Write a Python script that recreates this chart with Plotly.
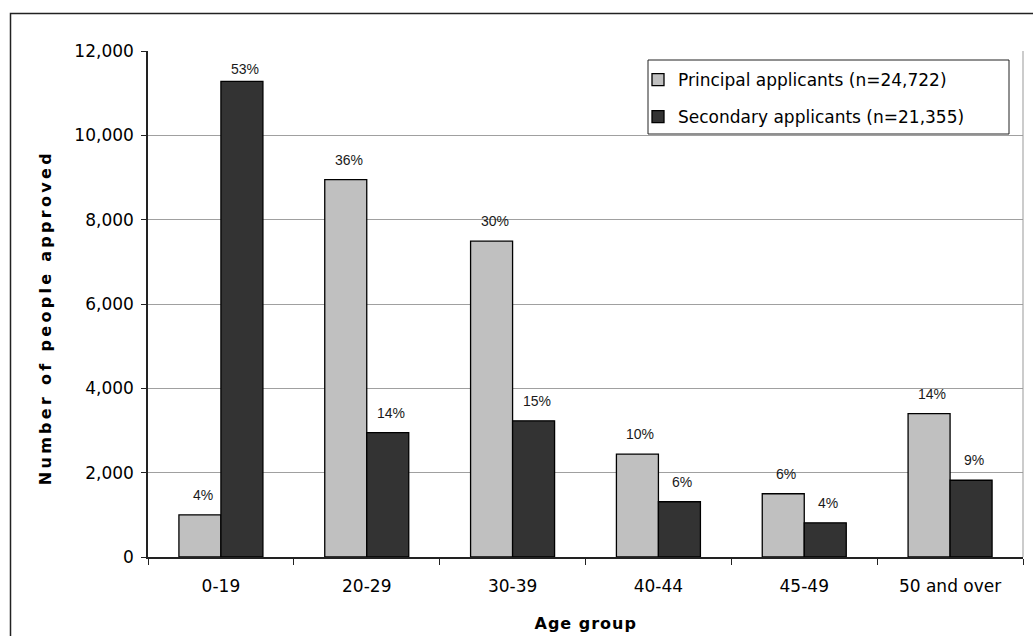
import plotly.graph_objects as go

# ---- data -------------------------------------------------------------
age_groups = ["0-19", "20-29", "30-39", "40-44", "45-49", "50 and over"]
principal = [1000, 8950, 7490, 2440, 1500, 3400]
secondary = [11280, 2950, 3230, 1310, 810, 1820]
principal_pct = ["4%", "36%", "30%", "10%", "6%", "14%"]
secondary_pct = ["53%", "14%", "15%", "6%", "4%", "9%"]
series_names = ["Principal applicants (n=24,722)", "Secondary applicants (n=21,355)"]
y_ticks = [0, 2000, 4000, 6000, 8000, 10000, 12000]

# ---- geometry ---------------------------------------------------------
W, H = 1033, 636
ML, MR, MT, MB = 148, 10, 51, 79
PW, PH = W - ML - MR, H - MT - MB
Y_MAX = 12000
BARGAP = 0.424


def px_x(px):
    return (px - ML) / PW


def px_y(py):
    return (H - MB - py) / PH


TICK_FONT = dict(family="DejaVu Sans", size=17, color="#000000")
LABEL_FONT = dict(family="Liberation Sans", size=14, color="#1a1a1a")

fig = go.Figure()
fig.add_trace(go.Bar(
    x=age_groups, y=principal, name=series_names[0],
    marker=dict(color="#C0C0C0", line=dict(color="#000000", width=1.3)),
    legend="legend", hoverinfo="skip",
))
fig.add_trace(go.Bar(
    x=age_groups, y=secondary, name=series_names[1],
    marker=dict(color="#333333", line=dict(color="#000000", width=1.3)),
    legend="legend2", hoverinfo="skip",
))

# percentage labels above each bar
cat_px = PW / len(age_groups)
half_bar_px = (1 - BARGAP) / 2 * cat_px / 2
annotations = []
for vals, pcts, side in ((principal, principal_pct, -1), (secondary, secondary_pct, 1)):
    for cat, v, t in zip(age_groups, vals, pcts):
        annotations.append(dict(
            x=cat, y=v, xref="x", yref="y", text=t, showarrow=False,
            xanchor="center", yanchor="bottom",
            xshift=side * half_bar_px + 3,
            yshift=2 if v > 0.9 * Y_MAX else 10,
            font=LABEL_FONT,
        ))

# axis titles
annotations.append(dict(
    x=px_x(45), y=px_y(318), xref="paper", yref="paper",
    text="<b>Number of people approved</b>", textangle=-90, showarrow=False,
    xanchor="center", yanchor="middle",
    font=dict(family="DejaVu Sans", size=16, color="#000000"),
))
annotations.append(dict(
    x=0.5, y=px_y(623), xref="paper", yref="paper",
    text="<b>Age group</b>", showarrow=False,
    xanchor="center", yanchor="middle",
    font=dict(family="DejaVu Sans", size=16, color="#000000"),
))

shapes = [
    # outer chart frame
    dict(type="rect", xref="paper", yref="paper",
         x0=px_x(10.5), x1=px_x(1045), y0=px_y(650), y1=px_y(13.5),
         line=dict(color="#222222", width=1.5), layer="below"),
    # right edge of the plot area
    dict(type="line", xref="paper", yref="paper", x0=1, x1=1, y0=0, y1=1,
         line=dict(color="#999999", width=1)),
    # legend box
    dict(type="rect", xref="paper", yref="paper",
         x0=px_x(648), x1=px_x(1009), y0=px_y(134), y1=px_y(60),
         line=dict(color="#222222", width=1), fillcolor="#FFFFFF", layer="below"),
]

legend_common = dict(
    xanchor="left", yanchor="middle", bgcolor="rgba(0,0,0,0)",
    borderwidth=0, font=TICK_FONT,
)

fig.update_layout(
    width=W, height=H,
    margin=dict(l=ML, r=MR, t=MT, b=MB, pad=0),
    paper_bgcolor="#FFFFFF", plot_bgcolor="#FFFFFF",
    barmode="group", bargap=BARGAP, bargroupgap=0,
    showlegend=True,
    legend=dict(x=px_x(638), y=px_y(80), **legend_common),
    legend2=dict(x=px_x(638), y=px_y(117), **legend_common),
    annotations=annotations, shapes=shapes,
    xaxis=dict(
        type="category", tickson="boundaries", ticks="outside", ticklen=6,
        tickcolor="#222222", tickwidth=1,
        showline=True, linecolor="#222222", linewidth=1.5,
        showgrid=False, tickfont=TICK_FONT, ticklabelstandoff=13,
    ),
    yaxis=dict(
        range=[0, Y_MAX], tickvals=y_ticks, tickformat=",",
        ticks="outside", ticklen=5, tickcolor="#222222", tickwidth=1,
        showline=True, linecolor="#222222", linewidth=1.5,
        showgrid=True, gridcolor="#A0A0A0", gridwidth=1,
        zeroline=False, tickfont=TICK_FONT, ticklabelstandoff=4,
    ),
)

spacing_js = """
var gd = document.getElementById('{plot_id}');
function spaceTitles() {
  gd.querySelectorAll('.annotation-text').forEach(function (t) {
    var s = t.textContent;
    if (s === 'Number of people approved') { t.style.letterSpacing = '3.3px'; }
    if (s === 'Age group') { t.style.letterSpacing = '1px'; }
  });
}
spaceTitles();
gd.on('plotly_afterplot', spaceTitles);
"""

fig.write_html("out.html", post_script=spacing_js)
